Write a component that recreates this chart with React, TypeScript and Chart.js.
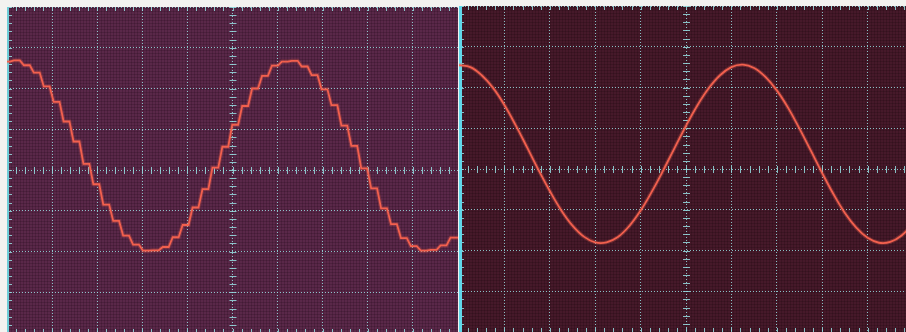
import React, { useEffect, useRef } from "react";
import { Chart, registerables } from "chart.js";

Chart.register(...registerables);

// ---- Data (screen divisions; horizontal 0..10 div, vertical -4..+4 div) ----
// Left screen: sampled (staircase) sine wave. Each sample is held from start to end.
const leftHoldStart = [
  0, 0.155, 0.375, 0.595, 0.815, 1.035, 1.255, 1.475, 1.695, 1.915, 2.135, 2.355, 2.575, 2.795, 3.015, 3.235,
  3.455, 3.675, 3.895, 4.115, 4.335, 4.555, 4.775, 4.995, 5.215, 5.435, 5.655, 5.875, 6.095, 6.315, 6.535,
  6.755, 6.975, 7.195, 7.415, 7.635, 7.855, 8.075, 8.295, 8.515, 8.735, 8.955, 9.175, 9.395, 9.615, 9.835,
];
const leftHoldEnd = [
  0.065, 0.285, 0.505, 0.725, 0.945, 1.165, 1.385, 1.605, 1.825, 2.045, 2.265, 2.485, 2.705, 2.925, 3.145, 3.365,
  3.585, 3.805, 4.025, 4.245, 4.465, 4.685, 4.905, 5.125, 5.345, 5.565, 5.785, 6.005, 6.225, 6.445, 6.665,
  6.885, 7.105, 7.325, 7.545, 7.765, 7.985, 8.205, 8.425, 8.645, 8.865, 9.085, 9.305, 9.525, 9.745, 10,
];
const leftVoltsDiv = [
  2.66, 2.69, 2.57, 2.39, 2.05, 1.67, 1.19, 0.7, 0.15, -0.35, -0.85, -1.25, -1.61, -1.83, -1.98, -1.97,
  -1.89, -1.65, -1.35, -0.92, -0.47, 0.06, 0.57, 1.11, 1.57, 2.0, 2.31, 2.56, 2.66, 2.68, 2.54,
  2.33, 1.98, 1.59, 1.09, 0.59, 0.04, -0.45, -0.94, -1.33, -1.67, -1.87, -1.98, -1.96, -1.85, -1.66,
];

// Right screen: smooth (reconstructed) sine wave
const rightTimeDiv = [
  0, 0.25, 0.5, 0.75, 1, 1.25, 1.5, 1.75, 2, 2.25, 2.5, 2.75, 3, 3.25, 3.5, 3.75, 4, 4.25, 4.5, 4.75,
  5, 5.25, 5.5, 5.75, 6, 6.25, 6.5, 6.75, 7, 7.25, 7.5, 7.75, 8, 8.25, 8.5, 8.75, 9, 9.25, 9.5, 9.75, 10,
];
const rightVoltsDiv = [
  2.55, 2.5, 2.3, 1.99, 1.57, 1.07, 0.53, -0.02, -0.54, -1.01, -1.39, -1.66, -1.8, -1.8, -1.67, -1.4,
  -1.02, -0.55, -0.03, 0.52, 1.06, 1.56, 1.98, 2.3, 2.5, 2.56, 2.48, 2.26, 1.93, 1.5, 0.99, 0.45,
  -0.1, -0.62, -1.08, -1.44, -1.69, -1.81, -1.79, -1.63, -1.35,
];

const X_DIVS = 10;
const Y_HALF_DIVS = 4;

const GRID_COLOR = "rgba(150,222,226,0.85)";
const TRACE_COLOR = "#f2604e";
const TRACE_GLOW = "rgba(242,96,78,0.28)";

function screenPlugin(bg: string, mesh: string, edgeColor: string, edgeWidth: number) {
  return {
    id: "scopeScreen",
    beforeDraw(chart: any) {
      const { ctx, chartArea: a } = chart;
      ctx.save();
      ctx.fillStyle = bg;
      ctx.fillRect(a.left, a.top, a.right - a.left, a.bottom - a.top);
      ctx.strokeStyle = mesh;
      ctx.lineWidth = 1;
      ctx.beginPath();
      for (let x = a.left + 1.5; x < a.right; x += 3) {
        ctx.moveTo(x, a.top);
        ctx.lineTo(x, a.bottom);
      }
      for (let y = a.top + 1.5; y < a.bottom; y += 3) {
        ctx.moveTo(a.left, y);
        ctx.lineTo(a.right, y);
      }
      ctx.stroke();
      ctx.restore();
    },
    beforeDatasetsDraw(chart: any) {
      const { ctx, chartArea: a } = chart;
      const xs = chart.scales.x;
      const ys = chart.scales.y;
      const xc = xs.getPixelForValue(X_DIVS / 2);
      const yc = ys.getPixelForValue(0);
      ctx.save();
      ctx.strokeStyle = GRID_COLOR;
      ctx.lineWidth = 1;
      ctx.beginPath();
      for (let i = 0; i <= X_DIVS * 5; i++) {
        const px = Math.round(xs.getPixelForValue(i / 5)) + 0.5;
        ctx.moveTo(px, yc - 3);
        ctx.lineTo(px, yc + 4);
        ctx.moveTo(px, a.top);
        ctx.lineTo(px, a.top + 4);
        ctx.moveTo(px, a.bottom - 4);
        ctx.lineTo(px, a.bottom);
      }
      for (let j = 0; j <= Y_HALF_DIVS * 10; j++) {
        const py = Math.round(ys.getPixelForValue(-Y_HALF_DIVS + j / 5)) + 0.5;
        ctx.moveTo(xc - 3, py);
        ctx.lineTo(xc + 4, py);
        ctx.moveTo(a.left, py);
        ctx.lineTo(a.left + 5, py);
      }
      ctx.stroke();
      ctx.strokeStyle = edgeColor;
      ctx.lineWidth = edgeWidth;
      ctx.beginPath();
      ctx.moveTo(a.left + edgeWidth / 2, a.top);
      ctx.lineTo(a.left + edgeWidth / 2, a.bottom);
      ctx.stroke();
      ctx.restore();
    },
  };
}

function buildConfig(points: { x: number; y: number }[], tension: number, bg: string, mesh: string, edge: string, edgeW: number): any {
  return {
    type: "line",
    data: {
      datasets: [
        {
          data: points,
          borderColor: TRACE_COLOR,
          borderWidth: 1.8,
          pointRadius: 0,
          tension,
          fill: false,
        },
        {
          data: points,
          borderColor: TRACE_GLOW,
          borderWidth: 4,
          pointRadius: 0,
          tension,
          fill: false,
        },
      ],
    },
    options: {
      animation: false,
      responsive: false,
      maintainAspectRatio: false,
      events: [],
      layout: { padding: 0 },
      plugins: { legend: { display: false }, tooltip: { enabled: false } },
      scales: {
        x: {
          type: "linear",
          min: 0,
          max: X_DIVS,
          ticks: { display: false, stepSize: 1 },
          grid: { drawTicks: false, color: GRID_COLOR, lineWidth: 1 },
          border: { display: false, dash: [1, 2] },
        },
        y: {
          type: "linear",
          min: -Y_HALF_DIVS,
          max: Y_HALF_DIVS,
          ticks: { display: false, stepSize: 1 },
          grid: { drawTicks: false, color: GRID_COLOR, lineWidth: 1 },
          border: { display: false, dash: [1, 2] },
        },
      },
    },
    plugins: [screenPlugin(bg, mesh, edge, edgeW)],
  };
}

export default function App() {
  const leftRef = useRef<HTMLCanvasElement | null>(null);
  const rightRef = useRef<HTMLCanvasElement | null>(null);

  useEffect(() => {
    const leftPoints = leftVoltsDiv.flatMap((v, k) => [
      { x: leftHoldStart[k], y: v },
      { x: leftHoldEnd[k], y: v },
    ]);
    const rightPoints = rightTimeDiv.map((t, i) => ({ x: t, y: rightVoltsDiv[i] }));
    const left = new Chart(
      leftRef.current as HTMLCanvasElement,
      buildConfig(leftPoints, 0, "#5a2849", "rgba(30,8,25,0.22)", "rgba(110,205,215,1)", 2)
    );
    const right = new Chart(
      rightRef.current as HTMLCanvasElement,
      buildConfig(rightPoints, 0.4, "#46192a", "rgba(20,4,10,0.2)", "rgba(95,215,235,1)", 3)
    );
    return () => {
      left.destroy();
      right.destroy();
    };
  }, []);

  return (
    <div
      style={{
        position: "fixed",
        left: 0,
        top: 0,
        width: 906,
        height: 332,
        overflow: "hidden",
        background: "#f3f2f0",
      }}
    >
      <canvas ref={leftRef} width={451} height={326} style={{ position: "absolute", left: 7, top: 7, width: 451, height: 326 }} />
      <canvas ref={rightRef} width={454} height={326} style={{ position: "absolute", left: 459, top: 6, width: 454, height: 326 }} />
    </div>
  );
}
